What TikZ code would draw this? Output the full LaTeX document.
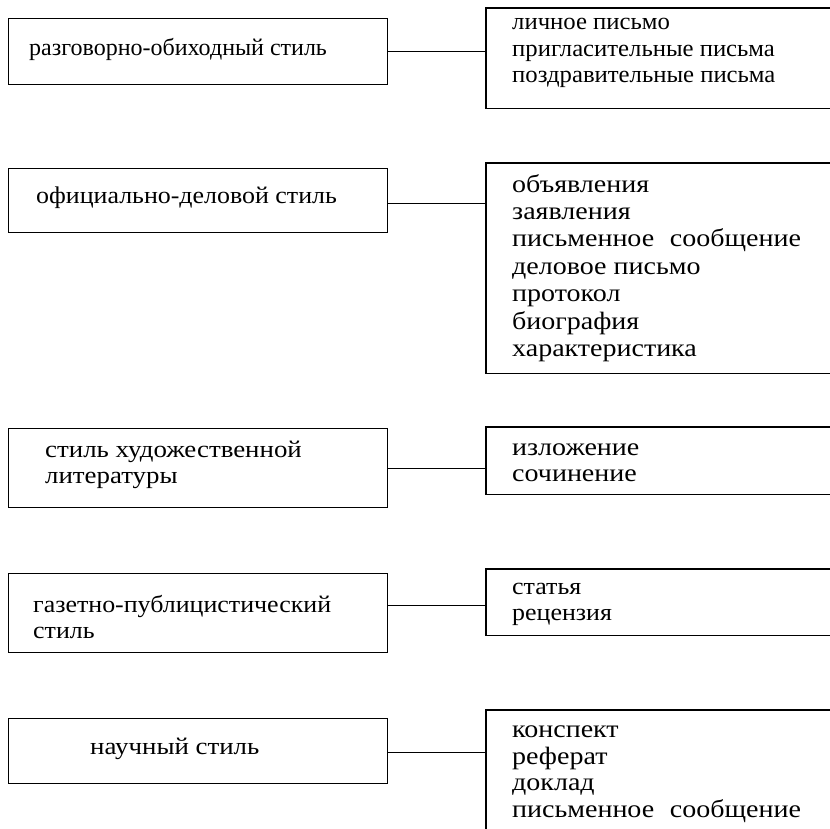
\documentclass[tikz,border=0pt]{standalone}
\usepackage{fontspec}
\setmainfont{Liberation Serif}
\newfontfamily\stO{Liberation Serif}[FakeStretch=1.03]
\newfontfamily\stA{Liberation Serif}[FakeStretch=1.08]
\newfontfamily\stB{Liberation Serif}[FakeStretch=1.12]
\begin{document}
\begin{tikzpicture}[x=1pt,y=-1pt,
  frame/.style={draw, line width=1.3pt, anchor=north west, inner sep=0pt, minimum width=379pt},
  rframe/.style={draw=none, anchor=north west, inner sep=0pt, minimum width=344pt},
  edge/.style={draw, line width=1.3pt},
  txt/.style={anchor=west, inner sep=0pt, align=left, font=\fontsize{24}{27}\selectfont},
  wtxt/.style={anchor=west, inner sep=0pt, align=left, font=\stB\fontsize{25}{27.4}\selectfont}
]
\useasboundingbox (0,0) rectangle (830,829);
% left boxes
\node[frame, minimum height=66pt] (l1) at (8,18) {};
\node[frame, minimum height=64pt] (l2) at (8,168) {};
\node[frame, minimum height=79pt] (l3) at (8,428) {};
\node[frame, minimum height=79pt] (l4) at (8,573) {};
\node[frame, minimum height=65pt] (l5) at (8,718) {};
% left texts
\node[txt] (l1t) at (29,49) {разговорно-обиходный стиль};
\node[txt, font=\stA\fontsize{24}{27}\selectfont] (l2t) at (36,198) {официально-деловой стиль};
\node[txt, font=\stB\fontsize{24}{26}\selectfont] (l3t) at (45,465) {стиль художественной\\литературы};
\node[txt, font=\stA\fontsize{24}{26}\selectfont] (l4t) at (33,617) {газетно-публицистический\\стиль};
\node[txt, font=\stB\fontsize{24}{27}\selectfont] (l5t) at (90,749) {научный стиль};
% right frames (open on the right)
\node[rframe, minimum height=100pt] (r1) at (486,8) {};
\node[rframe, minimum height=210pt] (r2) at (486,163) {};
\node[rframe, minimum height=67pt] (r3) at (486,427) {};
\node[rframe, minimum height=66pt] (r4) at (486,569) {};
\node[rframe, minimum height=119pt] (r5) at (486,710) {};
\draw[edge] (r1.north east) -- (r1.north west) -- (r1.south west) -- (r1.south east);
\draw[edge] (r2.north east) -- (r2.north west) -- (r2.south west) -- (r2.south east);
\draw[edge] (r3.north east) -- (r3.north west) -- (r3.south west) -- (r3.south east);
\draw[edge] (r4.north east) -- (r4.north west) -- (r4.south west) -- (r4.south east);
\draw[edge] (r5.north east) -- (r5.north west) -- (r5.south west);
% right texts
\node[txt, font=\stO\fontsize{24}{26.5}\selectfont] (r1t) at (512,53) {личное письмо\\пригласительные письма\\поздравительные письма};
\node[wtxt] (r2t) at (512,268) {объявления\\заявления\\письменное\hspace{0.35em} сообщение\\деловое письмо\\протокол\\биография\\характеристика};
\node[wtxt, font=\stB\fontsize{25}{26}\selectfont] (r3t) at (512,463) {изложение\\сочинение};
\node[txt, font=\stA\fontsize{24}{26}\selectfont] (r4t) at (512,604) {статья\\рецензия};
\node[wtxt, font=\stB\fontsize{25}{26.5}\selectfont] (r5t) at (512,774) {конспект\\реферат\\доклад\\письменное\hspace{0.35em} сообщение};
% connectors
\draw[edge] (l1.east) -- (l1.east -| r1.west);
\draw[edge] ([yshift=-3pt]l2.east) -- ([yshift=-3pt]l2.east -| r2.west);
\draw[edge] (l3.east) -- (l3.east -| r3.west);
\draw[edge] ([yshift=8pt]l4.east) -- ([yshift=8pt]l4.east -| r4.west);
\draw[edge] ([yshift=-1pt]l5.east) -- ([yshift=-1pt]l5.east -| r5.west);
\end{tikzpicture}
\end{document}
